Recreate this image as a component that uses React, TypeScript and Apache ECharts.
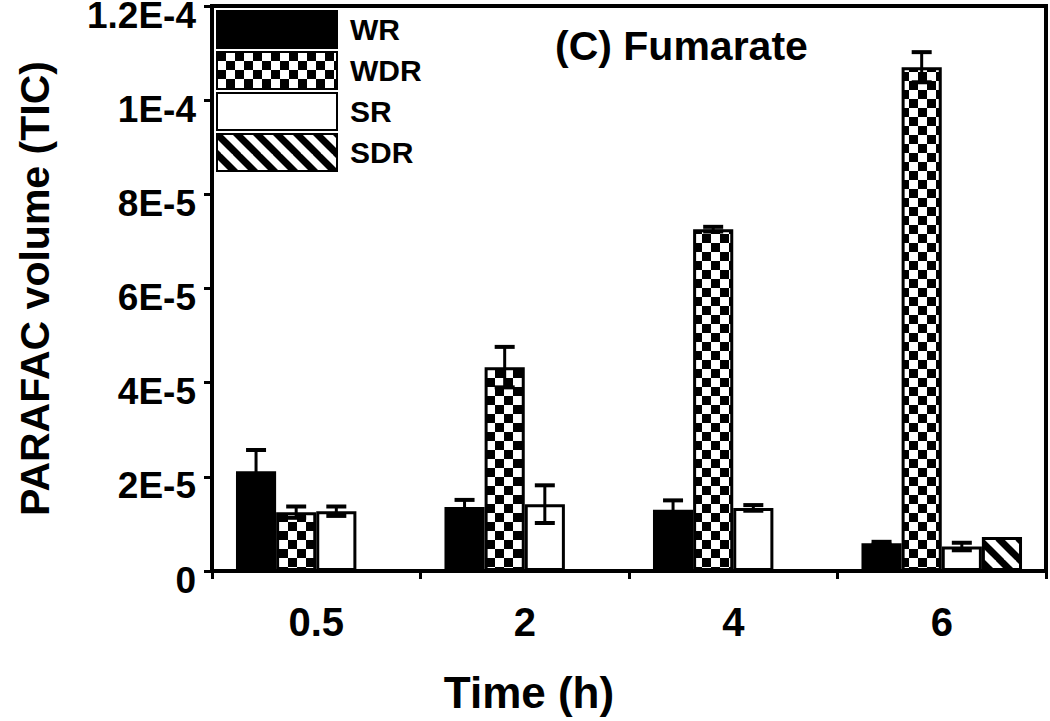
import React, { useEffect, useRef } from 'react';
import * as echarts from 'echarts';

const categories = ['0.5', '2', '4', '6'];
const seriesNames = ['WR', 'WDR', 'SR', 'SDR'];
const wrValues = [2.12e-5, 1.36e-5, 1.3e-5, 5.9e-6];
const wrErrors = [4.5e-6, 1.5e-6, 2.0e-6, 0.3e-6];
const wdrValues = [1.25e-5, 4.33e-5, 7.26e-5, 1.07e-4];
const wdrErrors = [1.2e-6, 4.3e-6, 0.5e-6, 3.2e-6];
const srValues = [1.27e-5, 1.42e-5, 1.34e-5, 5.2e-6];
const srErrors = [1.0e-6, 4.0e-6, 0.6e-6, 0.8e-6];
const sdrValues: (number | null)[] = [null, null, null, 7.2e-6];
const sdrErrors: (number | null)[] = [null, null, null, null];
const yTickLabels = ['0', '2E-5', '4E-5', '6E-5', '8E-5', '1E-4', '1.2E-4'];

const FONT = 'Liberation Sans, Arial, sans-serif';
const CAT_GAP = 0.23;

function makeChecker() {
  const s = 9;
  const c = document.createElement('canvas');
  c.width = s * 2;
  c.height = s * 2;
  const ctx = c.getContext('2d')!;
  ctx.fillStyle = '#fff';
  ctx.fillRect(0, 0, s * 2, s * 2);
  ctx.fillStyle = '#000';
  ctx.fillRect(0, 0, s, s);
  ctx.fillRect(s, s, s, s);
  return { image: c.toDataURL(), repeat: 'repeat', imageWidth: s * 2, imageHeight: s * 2 };
}

function makeHatch() {
  const s = 20;
  const c = document.createElement('canvas');
  c.width = s;
  c.height = s;
  const ctx = c.getContext('2d')!;
  ctx.fillStyle = '#fff';
  ctx.fillRect(0, 0, s, s);
  ctx.strokeStyle = '#000';
  ctx.lineWidth = 7;
  for (let k = -1; k <= 1; k++) {
    ctx.beginPath();
    ctx.moveTo(k * s - 2, -2);
    ctx.lineTo(k * s + s + 2, s + 2);
    ctx.stroke();
  }
  return { image: c.toDataURL(), repeat: 'repeat', imageWidth: s, imageHeight: s };
}

export default function App() {
  const ref = useRef<HTMLDivElement>(null);

  useEffect(() => {
    if (!ref.current) return;
    const chart = echarts.init(ref.current, undefined, { renderer: 'svg' });

    const fills: any[] = ['#000', makeChecker(), '#fff', makeHatch()];
    const valueSets = [wrValues, wdrValues, srValues, sdrValues];
    const errorSets = [wrErrors, wdrErrors, srErrors, sdrErrors];

    const barSeries = seriesNames.map((name, i) => ({
      name,
      type: 'bar',
      data: valueSets[i],
      barGap: '0%',
      barCategoryGap: CAT_GAP * 100 + '%',
      itemStyle: { color: fills[i], borderColor: '#000', borderWidth: 3 },
      z: 2,
    }));

    const errData: any[] = [];
    errorSets.forEach((errs, s) => {
      errs.forEach((e, c) => {
        const v = valueSets[s][c];
        if (v != null && e != null && e > 0) errData.push([c, v, e, s]);
      });
    });

    const errorSeries = {
      type: 'custom',
      z: 5,
      silent: true,
      data: errData,
      encode: { x: 0, y: 1 },
      renderItem: (params: any, api: any) => {
        const c = api.value(0);
        const v = api.value(1);
        const e = api.value(2);
        const s = api.value(3);
        const bandW = api.size([1, 0])[0];
        const barW = (bandW * (1 - CAT_GAP)) / seriesNames.length;
        const base = api.coord([c, v]);
        const x = base[0] + (s - (seriesNames.length - 1) / 2) * barW;
        const top = api.coord([c, v + e])[1];
        const bot = api.coord([c, v - e])[1];
        const half = 10;
        const st = { stroke: '#000', lineWidth: 4 };
        return {
          type: 'group',
          children: [
            { type: 'line', shape: { x1: x, y1: top, x2: x, y2: bot }, style: { stroke: '#000', lineWidth: 3 } },
            { type: 'line', shape: { x1: x - half, y1: top, x2: x + half, y2: top }, style: st },
            { type: 'line', shape: { x1: x - half, y1: bot, x2: x + half, y2: bot }, style: st },
          ],
        };
      },
    };

    chart.setOption({
      animation: false,
      backgroundColor: '#fff',
      title: {
        text: '(C) Fumarate',
        left: 555,
        top: 25,
        padding: 0,
        textStyle: { fontSize: 41, fontWeight: 'bold', fontFamily: FONT, color: '#000' },
      },
      legend: {
        data: seriesNames,
        orient: 'vertical',
        left: 216,
        top: 10,
        padding: 0,
        itemWidth: 120,
        itemHeight: 37,
        itemGap: 2,
        icon: 'rect',
        selectedMode: false,
        textStyle: { fontSize: 30, fontWeight: 'bold', fontFamily: FONT, color: '#000', padding: [0, 0, 0, 8] },
      },
      grid: {
        left: 212,
        right: 4,
        top: 6,
        bottom: 150,
        show: true,
        borderColor: '#000',
        borderWidth: 4,
        outerBoundsMode: 'none',
        containLabel: false,
      },
      xAxis: {
        type: 'category',
        data: categories,
        name: 'Time (h)',
        nameLocation: 'middle',
        nameGap: 99,
        nameTextStyle: { fontSize: 44, fontWeight: 'bold', fontFamily: FONT, color: '#000', padding: [0, 200, 0, 0] },
        axisLine: { lineStyle: { color: '#000', width: 4 } },
        axisTick: { show: true, length: 8, lineStyle: { color: '#000', width: 3 } },
        axisLabel: { fontSize: 40, fontWeight: 'bold', fontFamily: FONT, color: '#000', margin: 31 },
      },
      yAxis: {
        type: 'value',
        min: 0,
        max: 1.2e-4,
        interval: 2e-5,
        name: 'PARAFAC volume (TIC)',
        nameLocation: 'middle',
        nameGap: 157,
        nameTextStyle: { fontSize: 41, fontWeight: 'bold', fontFamily: FONT, color: '#000' },
        axisLine: { show: true, lineStyle: { color: '#000', width: 4 } },
        axisTick: { show: true, length: 8, lineStyle: { color: '#000', width: 3 } },
        splitLine: { show: false },
        axisLabel: {
          fontSize: 37,
          fontWeight: 'bold',
          fontFamily: FONT,
          color: '#000',
          margin: 16,
          verticalAlign: 'top',
          lineHeight: 18,
          formatter: (v: number) => yTickLabels[Math.round(v / 2e-5)] ?? '',
        },
      },
      series: [...barSeries, errorSeries],
    } as any);

    return () => chart.dispose();
  }, []);

  return (
    <div
      ref={ref}
      style={{ position: 'fixed', left: 0, top: 0, width: 1050, height: 721, background: '#fff' }}
    />
  );
}
